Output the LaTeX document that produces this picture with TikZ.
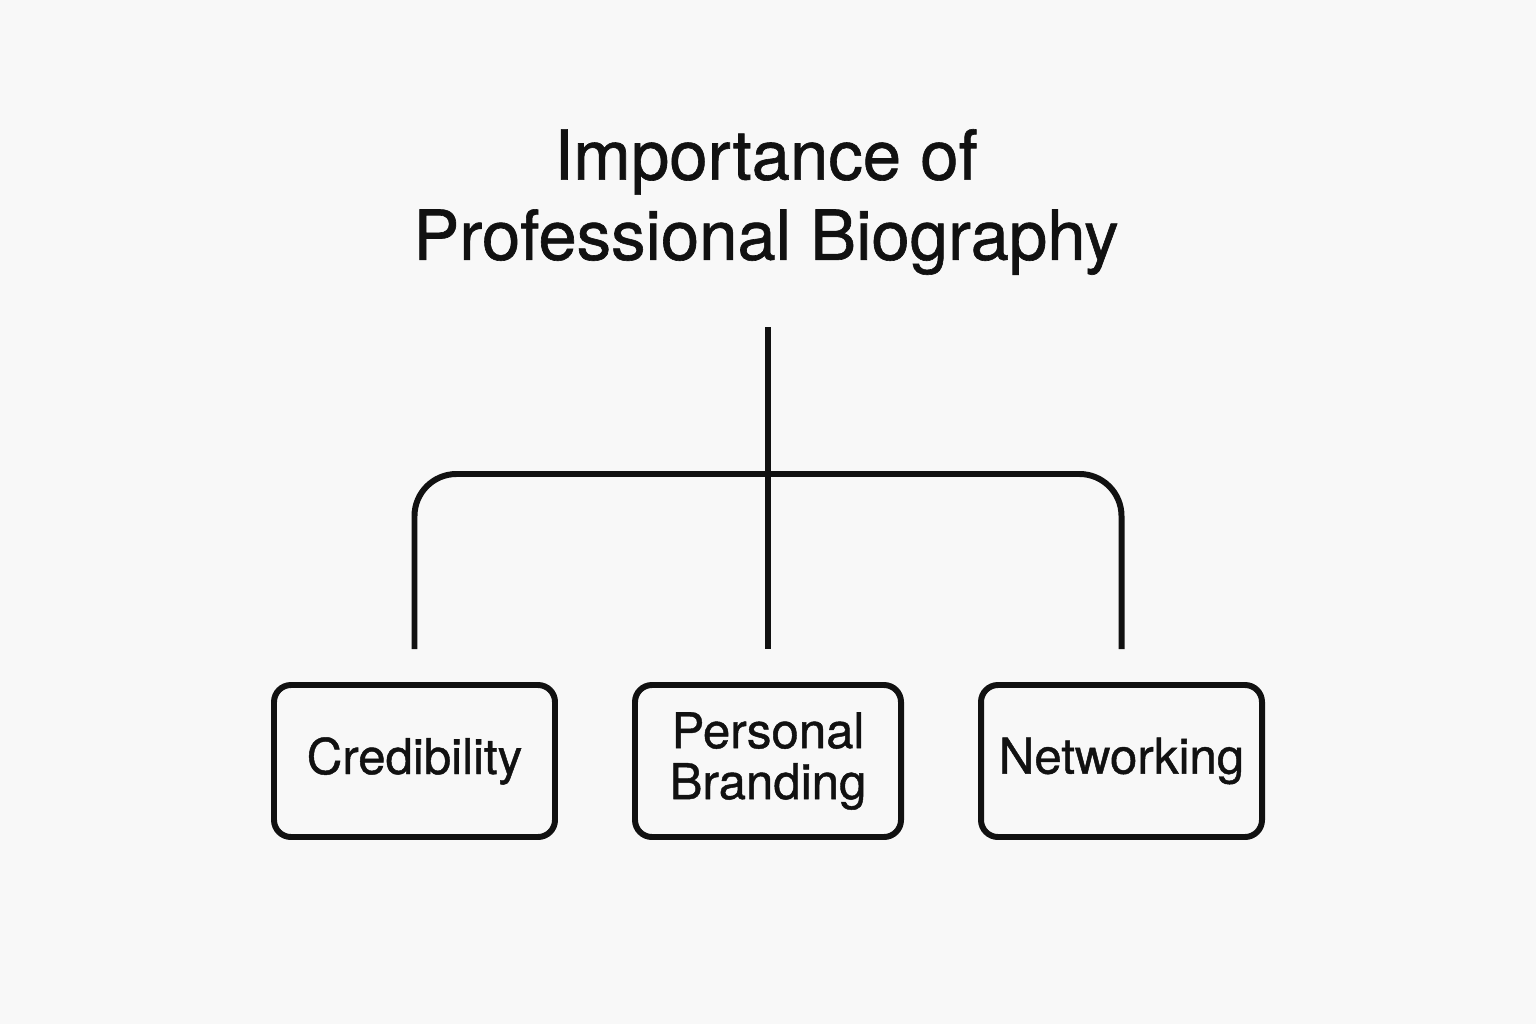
\documentclass[tikz,border=0pt]{standalone}
\usepackage{fontspec}
\setmainfont{TeX Gyre Heros}[FakeBold=0.9]
\definecolor{paper}{HTML}{F8F8F8}
\definecolor{ink}{HTML}{111111}
\begin{document}
\begin{tikzpicture}[
  line width=1.7pt, draw=ink,
  topic/.style={draw=ink, rounded corners=0.17cm, minimum height=1.52cm, align=center,
    font=\fontsize{14}{14.5}\selectfont, text=ink},
  link/.style={draw=ink, line width=1.7pt}]
\fill[paper] (0,0) rectangle (15.36,10.24);
\node[align=center, inner sep=0pt, text=ink, font=\fontsize{19.6}{22.8}\selectfont] (title) at (7.66,8.22)
  {Importance of\\Professional Biography};
\node[topic, minimum width=2.81cm] (cred) at (4.145,2.63) {Credibility};
\node[topic, minimum width=2.66cm] (brand) at (7.68,2.63) {Personal\\Branding};
\node[topic, minimum width=2.81cm] (net) at (11.215,2.63) {Networking};
\coordinate (stem) at (7.68,6.97);
\coordinate (hub) at (7.68,5.50);
\draw[link] (stem) -- ([yshift=0.33cm]brand.north);
\draw[link, rounded corners=0.42cm] ([yshift=0.33cm]cred.north) |- (hub) -| ([yshift=0.33cm]net.north);
\end{tikzpicture}
\end{document}
